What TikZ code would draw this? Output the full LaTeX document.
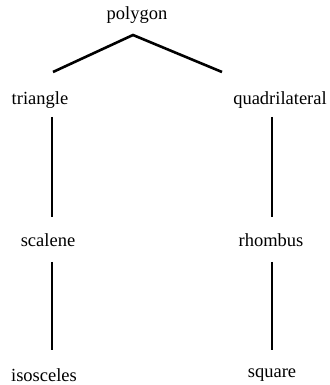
\documentclass[tikz,border=0pt]{standalone}
\usepackage{fontspec}
\setmainfont{Liberation Serif}
\begin{document}
\begin{tikzpicture}[x=1pt,y=1pt,
  lbl/.style={inner sep=0pt, font=\fontsize{18.5}{20}\selectfont},
  edge/.style={line width=2.6pt}]
\useasboundingbox (0,0) rectangle (329,385);
\node[lbl] (polygon) at (137,370) {polygon};
\node[lbl] (triangle) at (40,285) {triangle};
\node[lbl] (quad) at (280,285) {quadrilateral};
\node[lbl] (scalene) at (48,145) {scalene};
\node[lbl] (rhombus) at (271,145) {rhombus};
\node[lbl] (isosceles) at (44,10) {isosceles};
\node[lbl] (square) at (272,10) {square};
\coordinate (apex) at (133,350);
\coordinate (tl) at (53,313);
\coordinate (tr) at (222,313);
\coordinate (a1) at (52,268);
\coordinate (a2) at (52,168);
\coordinate (b1) at (272,268);
\coordinate (b2) at (272,168);
\coordinate (c1) at (52,123);
\coordinate (c2) at (52,35);
\coordinate (d1) at (272,123);
\coordinate (d2) at (272,35);
\draw[edge] (tl) -- (apex) -- (tr);
\draw[edge] (a1) -- (a2);
\draw[edge] (b1) -- (b2);
\draw[edge] (c1) -- (c2);
\draw[edge] (d1) -- (d2);
\end{tikzpicture}
\end{document}
